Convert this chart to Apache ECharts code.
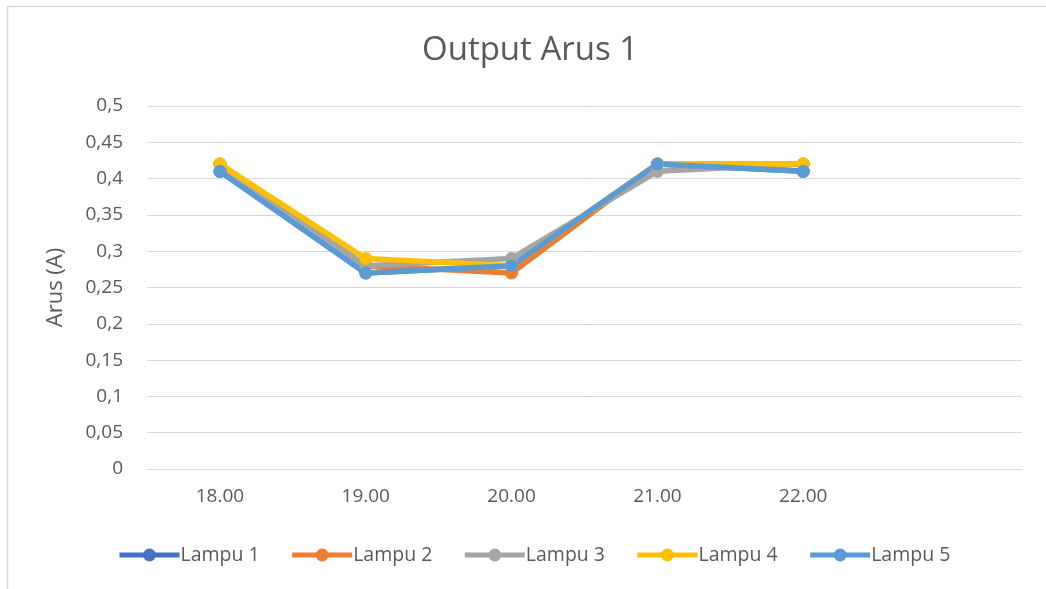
<!DOCTYPE html>
<html>
<head>
<meta charset="utf-8">
<script src="https://cdn.jsdelivr.net/npm/echarts@6/dist/echarts.min.js"></script>
<style>
  html, body { margin: 0; padding: 0; background: #fff; }
  #main { width: 1046px; height: 589px; }
</style>
</head>
<body>
<div id="main"></div>
<script>
// data
var jam = ['18.00', '19.00', '20.00', '21.00', '22.00', ''];
var lampu1 = [0.41, 0.27, 0.28, 0.42, 0.41];
var lampu2 = [0.42, 0.28, 0.27, 0.42, 0.42];
var lampu3 = [0.42, 0.28, 0.29, 0.41, 0.42];
var lampu4 = [0.42, 0.29, 0.28, 0.42, 0.42];
var lampu5 = [0.41, 0.27, 0.28, 0.42, 0.41];
var namaSeri = ['Lampu 1', 'Lampu 2', 'Lampu 3', 'Lampu 4', 'Lampu 5'];
var warna = ['#4472C4', '#ED7D31', '#A5A5A5', '#FFC000', '#5B9BD5'];

var font = '"Open Sans", "Liberation Sans", sans-serif';
var abu = '#595959';

function seri(nama, data) {
    return {
        name: nama,
        type: 'line',
        data: data,
        symbol: 'circle',
        symbolSize: 13,
        lineStyle: { width: 5.5 },
        emphasis: { disabled: true }
    };
}

let myChart = echarts.init(document.getElementById('main'));
let option = {
    animation: false,
    color: warna,
    textStyle: { fontFamily: font },
    graphic: [{
        type: 'rect',
        shape: { x: 7.5, y: 6.5, width: 1100, height: 700 },
        style: { fill: 'none', stroke: '#d9d9d9', lineWidth: 1.5 },
        silent: true
    }],
    title: {
        text: 'Output Arus 1',
        left: 417,
        top: 29,
        textStyle: { fontFamily: font, fontSize: 33, fontWeight: 'normal', color: abu }
    },
    legend: {
        data: namaSeri,
        left: 117,
        top: 545,
        padding: 0,
        itemWidth: 60,
        itemHeight: 16,
        itemGap: 30,
        lineStyle: { width: 5 },
        textStyle: { fontFamily: font, fontSize: 19.5, color: abu, padding: [0, 0, 0, -4] }
    },
    grid: { left: 147, right: 24, top: 106, bottom: 120, containLabel: false },
    xAxis: {
        type: 'category',
        data: jam,
        boundaryGap: true,
        axisLine: { lineStyle: { color: '#d9d9d9', width: 1 } },
        axisTick: { show: false },
        axisLabel: { fontFamily: font, fontSize: 19, color: abu, margin: 18 }
    },
    yAxis: {
        type: 'value',
        min: 0,
        max: 0.5,
        interval: 0.05,
        name: 'Arus (A)',
        nameLocation: 'middle',
        nameGap: 80,
        nameTextStyle: { fontFamily: font, fontSize: 22, color: abu },
        axisLine: { show: false },
        axisTick: { show: false },
        splitLine: { lineStyle: { color: '#d9d9d9', width: 1 } },
        axisLabel: {
            fontFamily: font, fontSize: 19, color: abu, margin: 24,
            formatter: function (v) {
                return String(Math.round(v * 100) / 100).replace('.', ',');
            }
        }
    },
    series: [
        seri(namaSeri[0], lampu1),
        seri(namaSeri[1], lampu2),
        seri(namaSeri[2], lampu3),
        seri(namaSeri[3], lampu4),
        seri(namaSeri[4], lampu5)
    ]
};
myChart.setOption(option);
</script>
</body>
</html>
